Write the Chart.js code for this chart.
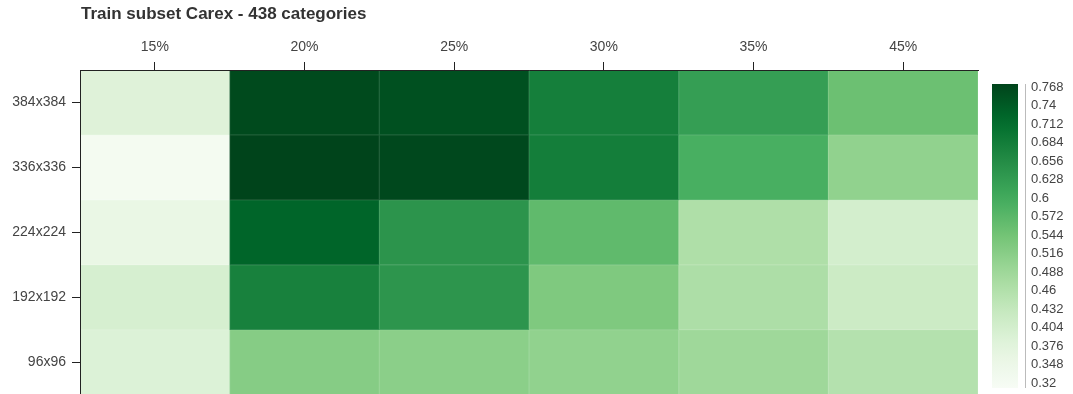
<!DOCTYPE html>
<html>
<head>
<meta charset="utf-8">
<script src="https://cdn.jsdelivr.net/npm/chart.js@4/dist/chart.umd.min.js"></script>
<style>
  html, body { margin: 0; padding: 0; background: #fff; overflow: hidden; }
  /* the plot runs past the bottom edge of the page */
  #wrap { width: 1073px; height: 409px; }
</style>
</head>
<body>
<div id="wrap"><canvas id="heatChart"></canvas></div>
<script>
// image sizes (rows) and train subset fractions (columns)
const sizes = ["384x384", "336x336", "224x224", "192x192", "96x96"];
const subsets = ["15%", "20%", "25%", "30%", "35%", "45%"];

// accuracy per image size, one value per subset
const acc384 = [0.388, 0.760, 0.752, 0.678, 0.622, 0.553];
const acc336 = [0.330, 0.768, 0.762, 0.680, 0.592, 0.508];
const acc224 = [0.362, 0.723, 0.640, 0.566, 0.468, 0.410];
const acc192 = [0.404, 0.674, 0.638, 0.530, 0.470, 0.423];
const acc96 = [0.392, 0.522, 0.516, 0.508, 0.490, 0.460];

// colour bar labels
const barTicks = ["0.768", "0.74", "0.712", "0.684", "0.656", "0.628", "0.6", "0.572",
  "0.544", "0.516", "0.488", "0.46", "0.432", "0.404", "0.376", "0.348", "0.32"];

const rows = [acc384, acc336, acc224, acc192, acc96];
const vMin = 0.32, vMax = 0.768;
const fontFamily = "'Liberation Sans', Arial, Helvetica, sans-serif";

const greens = ["#f7fcf5", "#e5f5e0", "#c7e9c0", "#a1d99b", "#74c476",
  "#41ab5d", "#238b45", "#006d2c", "#00441b"];

function hexRgb(h) {
  return [1, 3, 5].map(i => parseInt(h.substr(i, 2), 16));
}

function greenRgb(t) {
  t = Math.max(0, Math.min(1, t));
  const pos = t * (greens.length - 1);
  const i = Math.min(Math.floor(pos), greens.length - 2);
  const f = pos - i;
  const a = hexRgb(greens[i]), b = hexRgb(greens[i + 1]);
  return a.map((v, k) => Math.round(v + (b[k] - v) * f));
}

function greenAt(t, lighten) {
  let c = greenRgb(t);
  if (lighten) c = c.map(v => Math.round(v + (255 - v) * lighten));
  return "rgb(" + c.join(",") + ")";
}

function colorFor(v, lighten) {
  return greenAt((v - vMin) / (vMax - vMin), lighten);
}

const datasets = rows.map((vals, r) => ({
  label: sizes[r],
  data: vals.map((v, c) => ({ x: subsets[c], y: [r - 0.5, r + 0.5], v: v })),
  backgroundColor: ctx => colorFor(ctx.raw.v),
  // faint seam between neighbouring cells
  borderColor: ctx => colorFor(ctx.raw.v, 0.12),
  borderWidth: 1,
  borderSkipped: false,
  barPercentage: 1,
  categoryPercentage: 1,
  grouped: false,
}));

// title and colour bar
const extras = {
  id: "extras",
  afterDraw(chart) {
    const ctx = chart.ctx;
    const area = chart.chartArea;
    ctx.save();
    ctx.fillStyle = "#333";
    ctx.font = "bold 17px " + fontFamily;
    ctx.textBaseline = "middle";
    ctx.textAlign = "left";
    ctx.fillText("Train subset Carex - 438 categories", area.left + 1, 14);

    const x0 = 992, w = 26;
    const top = 84, bottom = 388;
    const yTop = 87, yBot = 383;
    const grad = ctx.createLinearGradient(0, top, 0, bottom);
    for (let i = 0; i <= 20; i++) {
      grad.addColorStop(i / 20, greenAt(1 - i / 20));
    }
    ctx.fillStyle = grad;
    ctx.fillRect(x0, top, w, bottom - top);

    ctx.strokeStyle = "#bbb";
    ctx.lineWidth = 1;
    ctx.beginPath();
    ctx.moveTo(1025.5, top);
    ctx.lineTo(1025.5, bottom);
    ctx.stroke();

    ctx.fillStyle = "#444";
    ctx.font = "13px " + fontFamily;
    barTicks.forEach(s => {
      const v = parseFloat(s);
      const y = yBot - (v - vMin) / (vMax - vMin) * (yBot - yTop);
      ctx.fillText(s, 1031, y);
    });
    ctx.restore();
  }
};

new Chart(document.getElementById("heatChart"), {
  type: "bar",
  data: { labels: subsets, datasets: datasets },
  plugins: [extras],
  options: {
    responsive: true,
    maintainAspectRatio: false,
    animation: false,
    layout: { padding: { top: 0, right: 95, bottom: 0, left: 0 } },
    plugins: {
      legend: { display: false },
      tooltip: {
        callbacks: {
          label: item => item.dataset.label + ": " + item.raw.v
        }
      }
    },
    scales: {
      x: {
        type: "category",
        position: "top",
        offset: true,
        afterFit: s => { s.height = 70; },
        grid: { offset: false, drawOnChartArea: false, tickLength: 8, color: "#222", z: 1 },
        border: { color: "#222", width: 1, z: 1 },
        ticks: {
          color: "#444",
          padding: 6,
          font: { family: fontFamily, size: 14 }
        }
      },
      y: {
        type: "linear",
        reverse: true,
        min: -0.5,
        max: 4.5,
        afterFit: s => { s.width = 80; },
        afterBuildTicks: s => { s.ticks = sizes.map((n, i) => ({ value: i })); },
        grid: { drawOnChartArea: false, tickLength: 8, color: "#222", z: 1 },
        border: { color: "#222", width: 1, z: 1 },
        ticks: {
          color: "#444",
          padding: 6,
          autoSkip: false,
          font: { family: fontFamily, size: 14 },
          callback: v => sizes[v]
        }
      }
    }
  }
});
</script>
</body>
</html>
